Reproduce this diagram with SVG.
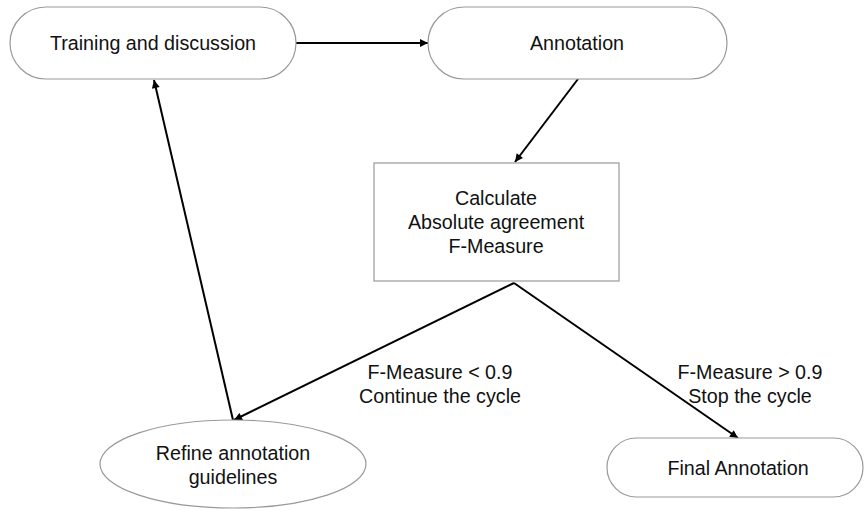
<svg xmlns="http://www.w3.org/2000/svg" width="866" height="510" viewBox="0 0 866 510">
<style>
.n{fill:#fff;stroke:#999;stroke-width:1.2}
.t{font-family:"Liberation Sans",Arial,sans-serif;font-size:19.7px;fill:#111;text-anchor:middle}
.c{stroke:#000;stroke-width:2;fill:none;marker-end:url(#a)}
</style>
<defs>
<marker id="a" viewBox="0 0 10 10" refX="10" refY="5" markerWidth="10" markerHeight="8" markerUnits="userSpaceOnUse" orient="auto"><path d="M0,0 L10,5 L0,10 z" fill="#000"/></marker>
</defs>
<rect width="866" height="510" fill="#fff"/>
<g id="connectors">
<line class="c" x1="296" y1="43" x2="428" y2="43"/>
<line class="c" x1="578" y1="79" x2="515" y2="162"/>
<line class="c" x1="514" y1="283" x2="234" y2="420"/>
<line class="c" x1="514" y1="283" x2="738" y2="438"/>
<line class="c" x1="233" y1="420" x2="154" y2="80"/>
</g>
<g id="training"><rect class="n" x="10" y="7" width="286" height="72" rx="36"/><text class="t" x="153" y="50">Training and discussion</text></g>
<g id="annotation"><rect class="n" x="428" y="7" width="299" height="72" rx="36"/><text class="t" x="577" y="50">Annotation</text></g>
<g id="calculate"><rect class="n" x="374" y="163" width="245" height="118"/>
<text class="t" x="496" y="205">Calculate</text><text class="t" x="496" y="229">Absolute agreement</text><text class="t" x="496" y="253">F-Measure</text></g>
<g id="refine"><ellipse class="n" cx="233" cy="464" rx="133" ry="44"/><text class="t" x="233" y="460">Refine annotation</text><text class="t" x="233" y="484">guidelines</text></g>
<g id="final"><rect class="n" x="607" y="438" width="256" height="59" rx="29.5"/><text class="t" x="738" y="475">Final Annotation</text></g>
<g id="labels"><text class="t" x="440" y="379">F-Measure &lt; 0.9</text><text class="t" x="440" y="403">Continue the cycle</text>
<text class="t" x="750" y="379">F-Measure &gt; 0.9</text><text class="t" x="750" y="403">Stop the cycle</text></g>
</svg>
